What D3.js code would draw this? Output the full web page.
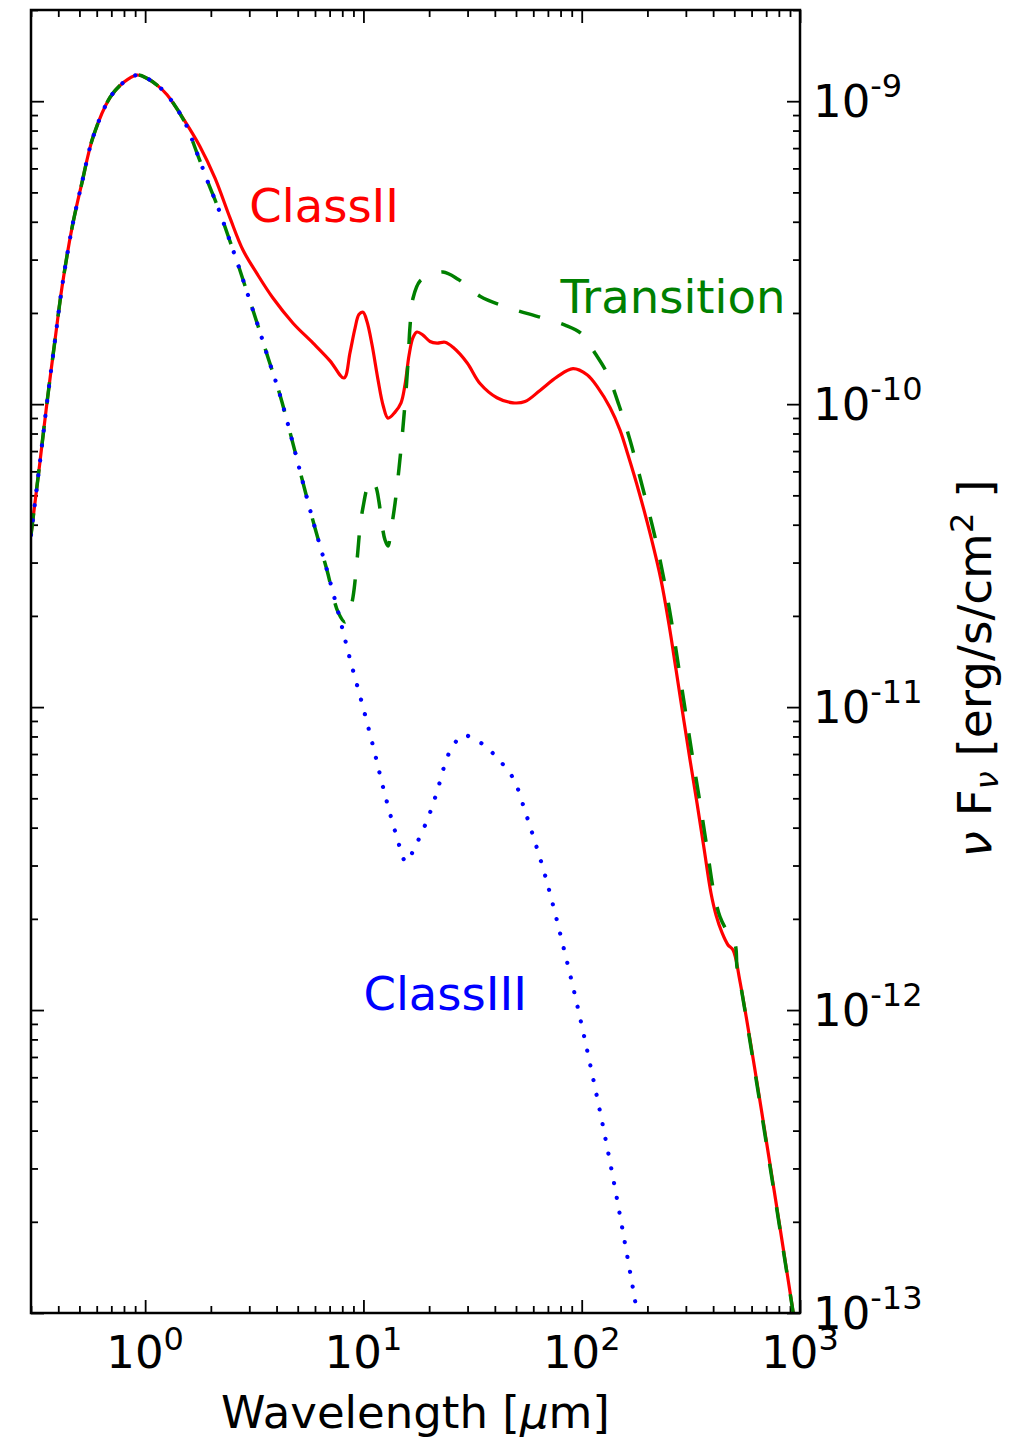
<!DOCTYPE html>
<html>
<head>
<meta charset="utf-8">
<script src="https://cdn.jsdelivr.net/npm/d3@7"></script>
<style>
  body { margin: 0; background: #fff; }
  svg text { font-family: "DejaVu Sans", sans-serif; }
</style>
</head>
<body>
<svg id="chart" width="1012" height="1441"></svg>
<script>
// Spectral energy distributions of young stars: wavelength in μm, νFν in erg/s/cm².

// Stellar photosphere, common to all three SEDs
const photoWave = [0.300, 0.330, 0.355, 0.387, 0.416, 0.463, 0.514, 0.577, 0.691, 0.792, 0.918, 1.020, 1.134, 1.26];
const photoFlux = [3.70e-11, 6.48e-11, 1.01e-10, 1.64e-10, 2.43e-10, 3.84e-10, 5.40e-10, 7.61e-10, 1.03e-9, 1.15e-9, 1.22e-9, 1.19e-9, 1.13e-9, 1.05e-9];

// Class III (disk-poor) beyond the photospheric peak
const classIIIWave = [1.52, 1.73, 1.94, 2.18, 2.42, 2.69, 2.96, 3.26, 3.66, 4.15, 4.71, 5.29, 6.00, 6.81,
  7.73, 8.68, 9.85, 11.1, 12.4, 14.1, 15.7, 17.1, 19.6, 21.7, 23.7, 25.2, 27.7, 29.2, 32.1, 36.8, 40.9,
  45.5, 49.5, 55.0, 60.5, 66.5, 72.3, 81.2, 94.2, 108, 123, 139, 156, 174, 187];
const classIIIFlux = [8.52e-10, 6.73e-10, 5.40e-10, 4.37e-10, 3.53e-10, 2.83e-10, 2.29e-10, 1.85e-10, 1.42e-10, 1.07e-10, 7.61e-11, 5.49e-11, 3.90e-11, 2.83e-11,
  2.01e-11, 1.44e-11, 1.03e-11, 7.38e-12, 5.32e-12, 3.81e-12, 3.08e-12, 3.42e-12, 4.24e-12, 5.24e-12, 6.53e-12, 7.27e-12, 7.96e-12, 8.08e-12, 7.84e-12, 7.38e-12, 6.79e-12,
  6.24e-12, 5.66e-12, 4.54e-12, 3.67e-12, 2.94e-12, 2.36e-12, 1.69e-12, 1.08e-12, 6.89e-13, 4.40e-13, 2.81e-13, 1.78e-13, 1.14e-13, 8.33e-14];

// Class II (full disk) beyond the photospheric peak
const classIIWave = [1.52, 1.78, 2.09, 2.45, 2.81, 3.26, 3.85, 4.76, 5.88, 7.03, 8.15, 8.68, 9.15, 9.55, 9.96,
  10.39, 10.95, 11.67, 12.30, 12.96, 13.96, 14.87, 15.51, 16.18, 16.87, 17.61, 18.75, 20.19, 21.74, 23.65,
  25.73, 29.83, 34.2, 40.9, 48.5, 55.0, 64.4, 77.1, 91.2, 105.8, 119.0, 134.8, 149.8, 163.0, 183.0,
  207.7, 230.8, 251.2, 270.4, 291.1, 313.5, 337.5, 363.3, 391.2, 412.4, 439.3, 468.0, 493.3, 531.2, 1000];
const classIIFlux = [8.59e-10, 7.10e-10, 5.57e-10, 4.11e-10, 3.22e-10, 2.69e-10, 2.24e-10, 1.85e-10, 1.59e-10, 1.39e-10, 1.22e-10, 1.48e-10, 1.78e-10, 1.98e-10, 2.01e-10,
  1.87e-10, 1.57e-10, 1.20e-10, 9.92e-11, 8.99e-11, 9.41e-11, 1.01e-10, 1.16e-10, 1.45e-10, 1.66e-10, 1.73e-10, 1.69e-10, 1.61e-10, 1.59e-10, 1.60e-10,
  1.54e-10, 1.37e-10, 1.17e-10, 1.05e-10, 1.01e-10, 1.02e-10, 1.11e-10, 1.23e-10, 1.31e-10, 1.25e-10, 1.13e-10, 9.75e-11, 8.21e-11, 6.79e-11, 5.13e-11,
  3.64e-11, 2.63e-11, 1.87e-11, 1.33e-11, 9.41e-12, 6.69e-12, 4.82e-12, 3.42e-12, 2.43e-12, 2.06e-12, 1.80e-12, 1.64e-12, 1.58e-12, 1.24e-12, 7.2e-14];

// Transition disk: photospheric out to ~7 μm (inner hole), then the outer disk
const transitionStart = 7.0;
const transitionWave = [7.65, 8.24, 8.59, 8.96, 9.35, 9.65, 9.96, 10.50, 10.95, 11.42, 11.79, 12.17, 12.56, 12.96,
  13.38, 13.96, 14.56, 15.02, 15.51, 16.01, 16.35, 16.87, 18.17, 20.19, 23.15, 27.13, 34.2, 46.95, 64.4,
  83.9, 100.3, 115.1, 130.6, 148.2, 166.4, 188.9, 216.7, 238.3, 259.3, 279.1, 300.5, 323.5, 348.4,
  375.0, 403.7, 430.2, 463.2, 504.0, 514.7, 531.2, 1000];
const transitionFlux = [2.06e-11, 1.91e-11, 2.03e-11, 2.31e-11, 3.06e-11, 3.93e-11, 4.57e-11, 5.40e-11, 5.61e-11, 5.32e-11, 4.75e-11, 3.99e-11, 3.56e-11, 3.40e-11,
  3.84e-11, 4.71e-11, 6.15e-11, 7.72e-11, 1.008e-10, 1.376e-10, 1.808e-10, 2.237e-10, 2.55e-10, 2.645e-10, 2.73e-10, 2.585e-10, 2.272e-10, 2.074e-10, 1.937e-10,
  1.823e-10, 1.702e-10, 1.473e-10, 1.266e-10, 9.92e-11, 7.61e-11, 5.40e-11, 3.64e-11, 2.63e-11, 1.87e-11, 1.33e-11, 9.41e-12, 6.69e-12, 4.82e-12,
  3.42e-12, 2.43e-12, 2.03e-12, 1.82e-12, 1.65e-12, 1.38e-12, 1.24e-12, 7.2e-14];

// Axis ticks
const xMajor = [1, 10, 100, 1000];
const xExp = ["0", "1", "2", "3"];
const yMajor = [1e-13, 1e-12, 1e-11, 1e-10, 1e-9];
const yExp = ["-13", "-12", "-11", "-10", "-9"];

// Curve annotations (anchored in data coordinates)
const labelText = ["ClassII", "Transition", "ClassIII"];
const labelWave = [3, 80, 10];
const labelFlux = [4e-10, 2e-10, 1e-12];
const labelColor = ["#ff0000", "#008000", "#0000ff"];

const zip = (w, f) => w.map((v, i) => [v, f[i]]);
const photo = zip(photoWave, photoFlux);
const classIII = photo.concat(zip(classIIIWave, classIIIFlux));
const classII = photo.concat(zip(classIIWave, classIIFlux));
const transition = photo
  .concat(zip(classIIIWave, classIIIFlux).filter(d => d[0] < transitionStart))
  .concat(zip(transitionWave, transitionFlux));

const margin = { left: 31, top: 10, right: 212, bottom: 128 };
const W = 1012 - margin.left - margin.right;   // 769
const H = 1441 - margin.top - margin.bottom;   // 1303

const x = d3.scaleLog().domain([0.3, 1000]).range([0, W]);
const y = d3.scaleLog().domain([1e-13, 2e-9]).range([H, 0]);

const svg = d3.select("#chart");
const g = svg.append("g").attr("transform", `translate(${margin.left},${margin.top})`);

g.append("defs").append("clipPath").attr("id", "plot-clip")
  .append("rect").attr("width", W).attr("height", H);

// minor tick positions
const xMinor = [];
[0.1, 1, 10, 100].forEach(d => { for (let k = 2; k <= 9; k++) { const v = k * d; if (v >= 0.2999 && v <= 1000) xMinor.push(v); } });
const yMinor = [];
[1e-13, 1e-12, 1e-11, 1e-10, 1e-9].forEach(d => { for (let k = 2; k <= 9; k++) { const v = k * d; if (v <= 2.0001e-9) yMinor.push(v); } });

const MAJ = 13, MIN = 7;
function tickAxis(axisFn, scale, values, size, transform) {
  const a = g.append("g").attr("transform", transform)
    .call(axisFn(scale).tickValues(values).tickSizeInner(-size).tickSizeOuter(0).tickFormat(""));
  a.select(".domain").remove();
  a.selectAll(".tick line").attr("stroke", "#000").attr("stroke-width", 1.8);
}
tickAxis(d3.axisBottom, x, xMajor, MAJ, `translate(0,${H})`);
tickAxis(d3.axisBottom, x, xMinor, MIN, `translate(0,${H})`);
tickAxis(d3.axisTop, x, xMajor, MAJ, "translate(0,0)");
tickAxis(d3.axisTop, x, xMinor, MIN, "translate(0,0)");
tickAxis(d3.axisLeft, y, yMajor, MAJ, "translate(0,0)");
tickAxis(d3.axisLeft, y, yMinor, MIN, "translate(0,0)");
tickAxis(d3.axisRight, y, yMajor, MAJ, `translate(${W},0)`);
tickAxis(d3.axisRight, y, yMinor, MIN, `translate(${W},0)`);

// curves
const line = d3.line()
  .x(d => x(d[0])).y(d => y(d[1]))
  .curve(d3.curveCatmullRom.alpha(0.5));

const curves = g.append("g").attr("clip-path", "url(#plot-clip)");
curves.append("path").datum(classII).attr("d", line)
  .attr("fill", "none").attr("stroke", "#ff0000").attr("stroke-width", 3.2);
curves.append("path").datum(transition).attr("d", line)
  .attr("fill", "none").attr("stroke", "#008000").attr("stroke-width", 3.5)
  .attr("stroke-dasharray", "22 22");
curves.append("path").datum(classIII).attr("d", line)
  .attr("fill", "none").attr("stroke", "#0000ff").attr("stroke-width", 4.2)
  .attr("stroke-linecap", "round").attr("stroke-dasharray", "0.01 15");

// frame
g.append("rect").attr("width", W).attr("height", H)
  .attr("fill", "none").attr("stroke", "#000").attr("stroke-width", 2.5);

// tick labels
const FS = 45, SUP = 32, RAISE = 18;
g.selectAll(".xlab").data(xMajor).join("text")
  .attr("class", "xlab")
  .attr("x", d => x(d)).attr("y", H + 55)
  .attr("text-anchor", "middle").attr("font-size", FS).attr("fill", "#000")
  .each(function (d, i) {
    const t = d3.select(this);
    t.append("tspan").text("10");
    t.append("tspan").attr("dy", -RAISE).attr("font-size", SUP).text(xExp[i]);
  });
g.selectAll(".ylab").data(yMajor).join("text")
  .attr("class", "ylab")
  .attr("x", W + 13).attr("y", d => y(d) + 16)
  .attr("text-anchor", "start").attr("font-size", FS).attr("fill", "#000")
  .each(function (d, i) {
    const t = d3.select(this);
    t.append("tspan").text("10");
    t.append("tspan").attr("dy", -RAISE - 2).attr("font-size", SUP).text(yExp[i]);
  });

// axis titles
g.append("text")
  .attr("x", W / 2).attr("y", H + 115)
  .attr("text-anchor", "middle").attr("font-size", FS).attr("fill", "#000")
  .call(t => {
    t.append("tspan").text("Wavelength [");
    t.append("tspan").attr("font-style", "italic").text("μ");
    t.append("tspan").text("m]");
  });

g.append("text")
  .attr("transform", `translate(${W + 191},${H / 2 + 7}) rotate(-90)`)
  .attr("text-anchor", "middle").attr("font-size", 47).attr("fill", "#000")
  .call(t => {
    t.append("tspan").attr("font-style", "italic").text("ν");
    t.append("tspan").text(" F");
    t.append("tspan").attr("font-style", "italic").attr("font-size", SUP).attr("dy", 7).text("ν");
    t.append("tspan").attr("dy", -7).text("  [erg/s/cm");
    t.append("tspan").attr("font-size", SUP).attr("dy", -RAISE).text("2");
    t.append("tspan").attr("dy", RAISE).text(" ]");
  });

// curve annotations
g.selectAll(".curve-label").data(labelText).join("text")
  .attr("class", "curve-label")
  .attr("x", (d, i) => x(labelWave[i])).attr("y", (d, i) => y(labelFlux[i]))
  .attr("font-size", 46.5).attr("fill", (d, i) => labelColor[i])
  .text(d => d);
</script>
</body>
</html>
